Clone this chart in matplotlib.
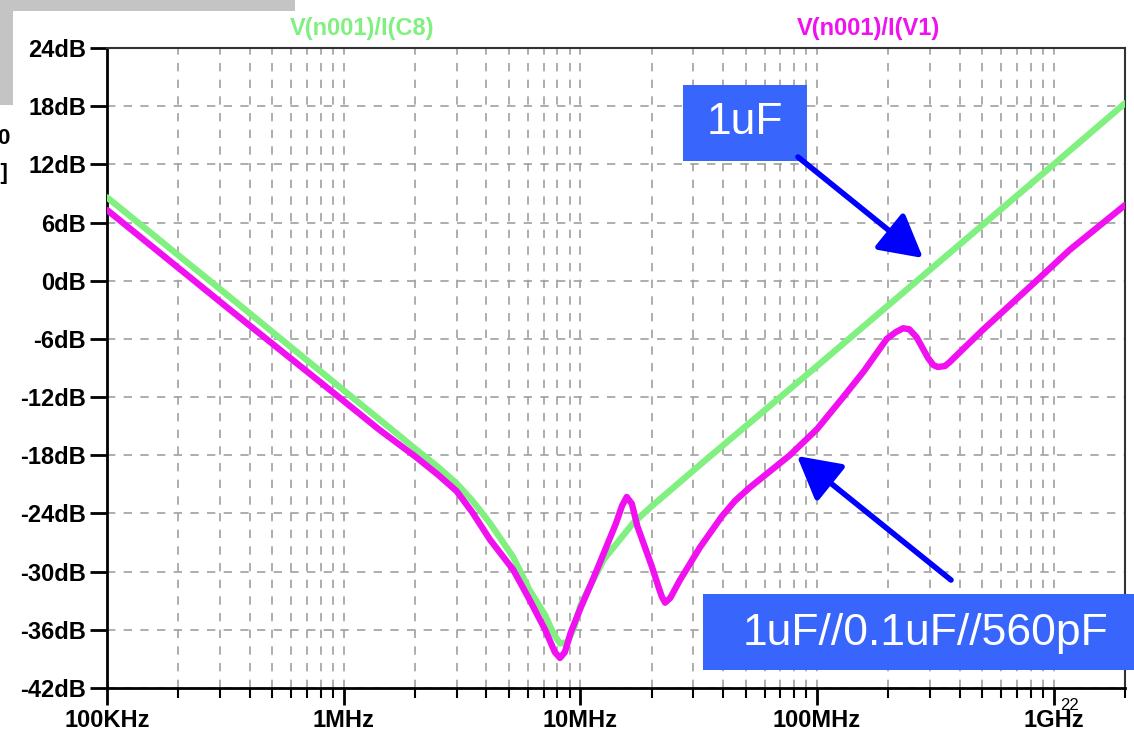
import matplotlib
matplotlib.use("Agg")
import matplotlib.pyplot as plt
from matplotlib.patches import Rectangle, FancyArrowPatch
from matplotlib.ticker import FixedLocator, LogLocator, NullFormatter

# -----------------------------
# Data
# -----------------------------
freq_c8 = [1e5, 3.16e5, 1e6, 1.57e6, 2.0e6, 2.5e6, 3.0e6, 3.5e6, 4.15e6, 5.2e6,
           6.1e6, 7.1e6, 7.7e6, 8.2e6, 8.8e6, 9.4e6, 1.0e7, 1.13e7, 1.26e7,
           1.67e7, 1.97e7, 3.16e7, 1e8, 3.16e8, 1e9, 2e9]
db_c8 = [8.6, -1.3, -11.3, -15.2, -17.3, -19.2, -20.9, -22.7, -25.0, -28.5,
         -31.9, -34.5, -36.4, -37.4, -37.3, -35.8, -33.5, -30.9, -28.7,
         -25.0, -23.4, -19.1, -8.8, 1.6, 12.0, 18.3]

freq_v1 = [1e5, 3.16e5, 1e6, 1.42e6, 2.0e6, 2.5e6, 3.0e6, 3.5e6, 4.15e6, 5.2e6,
           6.1e6, 7.1e6, 7.8e6, 8.2e6, 8.6e6, 9.1e6, 1.0e7, 1.13e7, 1.26e7,
           1.41e7, 1.5e7, 1.57e7, 1.65e7, 1.74e7, 2.0e7, 2.14e7, 2.21e7, 2.28e7,
           2.4e7, 2.63e7, 3.2e7, 3.96e7, 4.5e7, 5.21e7, 7.67e7, 1e8, 1.29e8,
           1.58e8, 1.97e8, 2.15e8, 2.31e8, 2.45e8, 2.63e8, 2.95e8, 3.1e8,
           3.24e8, 3.47e8, 3.63e8, 5.0e8, 8.2e8, 1.17e9, 2e9]
db_v1 = [7.3, -2.6, -12.4, -15.4, -18.1, -20.0, -21.7, -23.9, -26.7, -29.8,
         -32.9, -36.0, -38.3, -38.9, -38.3, -36.3, -33.8, -30.8, -28.0,
         -25.1, -23.2, -22.3, -23.0, -25.3, -29.4, -31.6, -32.6, -33.2,
         -32.7, -30.9, -27.5, -24.3, -22.7, -21.3, -18.0, -15.3, -12.0,
         -9.3, -6.0, -5.3, -4.9, -5.0, -5.8, -8.0, -8.7,
         -8.9, -8.8, -8.4, -5.1, -0.3, 3.2, 7.8]

x_ticks = [1e5, 1e6, 1e7, 1e8, 1e9]
x_labels = ["100KHz", "1MHz", "10MHz", "100MHz", "1GHz"]
y_ticks = list(range(-42, 25, 6))
y_labels = [f"{v}dB" for v in y_ticks]

GREEN = "#80f080"
MAGENTA = "#f010f0"
BOX = "#3865fb"
ARROW = "#0000ff"

plt.rcParams["font.family"] = ["Liberation Sans", "DejaVu Sans"]

# -----------------------------
# Figure
# -----------------------------
fig = plt.figure(figsize=(11.34, 7.35), dpi=100)
ax = fig.add_axes([107 / 1134, 47 / 735, 1018 / 1134, 640 / 735])

ax.plot(freq_c8, db_c8, color=GREEN, lw=4.6, solid_joinstyle="round",
        solid_capstyle="round", zorder=3)
ax.plot(freq_v1, db_v1, color=MAGENTA, lw=4.6, solid_joinstyle="round",
        solid_capstyle="round", zorder=4)

ax.set_xscale("log")
ax.set_xlim(1e5, 2e9)
ax.set_ylim(-42, 24)

ax.xaxis.set_major_locator(FixedLocator(x_ticks))
ax.set_xticklabels(x_labels)
ax.xaxis.set_minor_locator(LogLocator(base=10, subs=range(2, 10), numticks=20))
ax.xaxis.set_minor_formatter(NullFormatter())
ax.set_yticks(y_ticks)
ax.set_yticklabels(y_labels)

ax.tick_params(axis="both", which="major", length=12, width=2, direction="out",
               labelsize=17, pad=3)
ax.tick_params(axis="x", which="minor", length=7, width=1.5, direction="out")
for lab in ax.get_xticklabels() + ax.get_yticklabels():
    lab.set_fontweight("bold")

ax.grid(True, which="major", color="#a0a0a0", lw=1.2, ls=(0, (5, 5)))
ax.grid(True, which="minor", axis="x", color="#a0a0a0", lw=1.2, ls=(0, (5, 5)))
ax.set_axisbelow(True)

for side in ["left", "bottom"]:
    ax.spines[side].set_linewidth(2)
for side in ["top", "right"]:
    ax.spines[side].set_linewidth(1.5)
    ax.spines[side].set_color("#333333")

# trace names
fig.text(362, 706, "V(n001)/I(C8)", transform=None, color=GREEN, fontsize=17,
         fontweight="bold", ha="center", va="center")
fig.text(868, 706, "V(n001)/I(V1)", transform=None, color=MAGENTA, fontsize=17,
         fontweight="bold", ha="center", va="center")

# -----------------------------
# Annotations
# -----------------------------
fig.patches.append(Rectangle((683, 574), 124, 76, transform=None,
                             facecolor=BOX, edgecolor="none", zorder=5))
fig.text(745, 612, "1uF", transform=None, color="white", fontsize=32,
         ha="center", va="center", zorder=6)
fig.patches.append(Rectangle((703, 65), 431, 76, transform=None,
                             facecolor=BOX, edgecolor="none", zorder=5))
fig.text(925, 101, "1uF//0.1uF//560pF", transform=None, color="white",
         fontsize=32, ha="center", va="center", zorder=6)

for tail, tip in [((798, 578), (923, 477)), ((951, 155), (797, 279))]:
    fig.patches.append(FancyArrowPatch(tail, tip, transform=None,
                                       arrowstyle="-|>,head_length=1.0,head_width=0.55",
                                       mutation_scale=26, color=ARROW, lw=4,
                                       shrinkA=0, shrinkB=0, zorder=7))

# screenshot leftovers at the edges
fig.patches.append(Rectangle((0, 724), 295, 11, transform=None,
                             facecolor="#c4c4c4", edgecolor="none"))
fig.patches.append(Rectangle((0, 630), 13, 105, transform=None,
                             facecolor="#c4c4c4", edgecolor="none"))
fig.text(-3, 596, "0", transform=None, fontsize=16, fontweight="bold", va="center")
fig.text(-6, 562, ":]", transform=None, fontsize=16, fontweight="bold", va="center")
fig.text(1060, 30, "22", transform=None, fontsize=12, va="center")

fig.savefig("out.png", dpi=100)
